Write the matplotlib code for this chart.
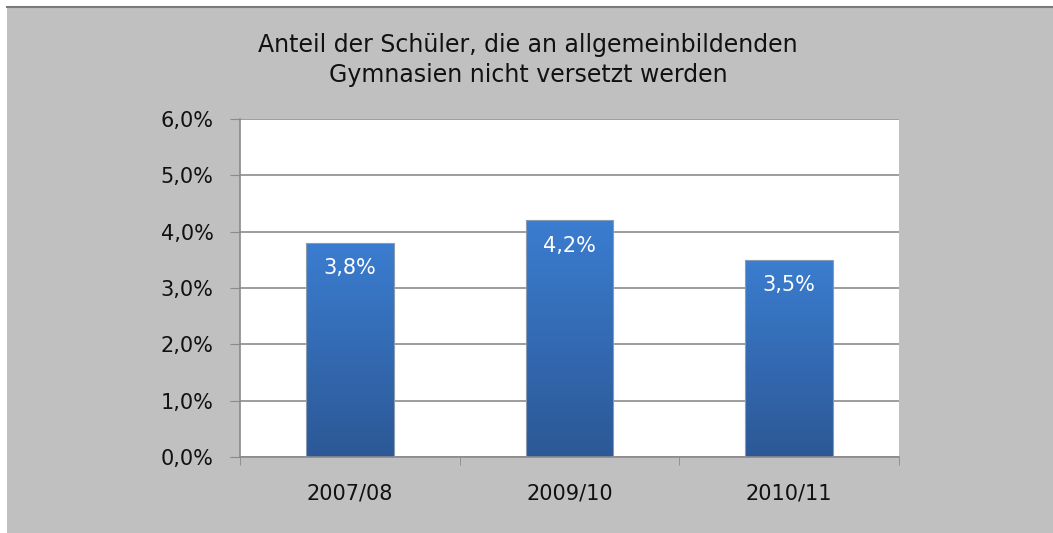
import numpy as np
import matplotlib.pyplot as plt
from matplotlib.colors import LinearSegmentedColormap
from matplotlib.patches import Rectangle

# data
categories = ['2007/08', '2009/10', '2010/11']
values = [3.8, 4.2, 3.5]
labels = ['3,8%', '4,2%', '3,5%']
yticks = [0, 1, 2, 3, 4, 5, 6]
ytick_labels = ['0,0%', '1,0%', '2,0%', '3,0%', '4,0%', '5,0%', '6,0%']
title = 'Anteil der Schüler, die an allgemeinbildenden\nGymnasien nicht versetzt werden'

plt.rcParams['font.family'] = ['DejaVu Sans']

W, H = 1053, 533
fig = plt.figure(figsize=(W / 100, H / 100), dpi=100)
fig.patch.set_facecolor('#c0c0c0')

# white strips left and top, with a dark top edge
fig.add_artist(Rectangle((0, 0), 7 / W, 1, transform=fig.transFigure,
                         facecolor='white', edgecolor='none', zorder=-5))
fig.add_artist(Rectangle((0, 1 - 6 / H), 1, 6 / H, transform=fig.transFigure,
                         facecolor='white', edgecolor='none', zorder=-5))
fig.add_artist(plt.Line2D([7 / W, 1], [1 - 6.5 / H, 1 - 6.5 / H], color='#7a7a7a', lw=1.5, zorder=-4))

ax = fig.add_axes([240 / W, 76 / H, 659 / W, 338 / H])
ax.set_facecolor('white')

x = np.arange(len(categories))
bars = ax.bar(x, values, width=0.4, color='none', edgecolor='#8a9bb0', linewidth=0.8, zorder=3)

cmap = LinearSegmentedColormap.from_list('blu', ['#2c5896', '#3b7dd0'])
grad = np.linspace(0, 1, 256).reshape(-1, 1)
for b in bars:
    x0, w, h = b.get_x(), b.get_width(), b.get_height()
    im = ax.imshow(grad, cmap=cmap, origin='lower', aspect='auto',
                   extent=[x0, x0 + w, 0, h], zorder=2)
    im.set_clip_path(b)

for xi, v, lab in zip(x, values, labels):
    ax.annotate(lab, (xi, v), xytext=(0, -11), textcoords='offset points',
                ha='center', va='top', color='white', fontsize=15, zorder=4)

ax.set_xlim(-0.5, len(categories) - 0.5)
ax.set_ylim(0, 6)
ax.set_yticks(yticks)
ax.set_yticklabels(ytick_labels, fontsize=15, color='#111111')
ax.set_xticks(x)
ax.set_xticklabels(categories, fontsize=15, color='#111111')
ax.set_xticks(np.arange(-0.5, len(categories)), minor=True)
ax.tick_params(axis='x', which='major', length=0, pad=19)
ax.tick_params(axis='x', which='minor', length=6, color='#8a8a8a', direction='out')
ax.tick_params(axis='y', length=7, color='#8a8a8a', pad=12)
ax.grid(axis='y', color='#8c8c8c', linewidth=1.2, zorder=1)
ax.set_axisbelow(True)
for s in ['top', 'right']:
    ax.spines[s].set_visible(False)
for s in ['left', 'bottom']:
    ax.spines[s].set_color('#8a8a8a')
    ax.spines[s].set_linewidth(1.2)

fig.text(528 / W, 1 - 60 / H, title, ha='center', va='center', fontsize=17,
         linespacing=1.27, color='#111111')

fig.savefig('out.png', dpi=100)
